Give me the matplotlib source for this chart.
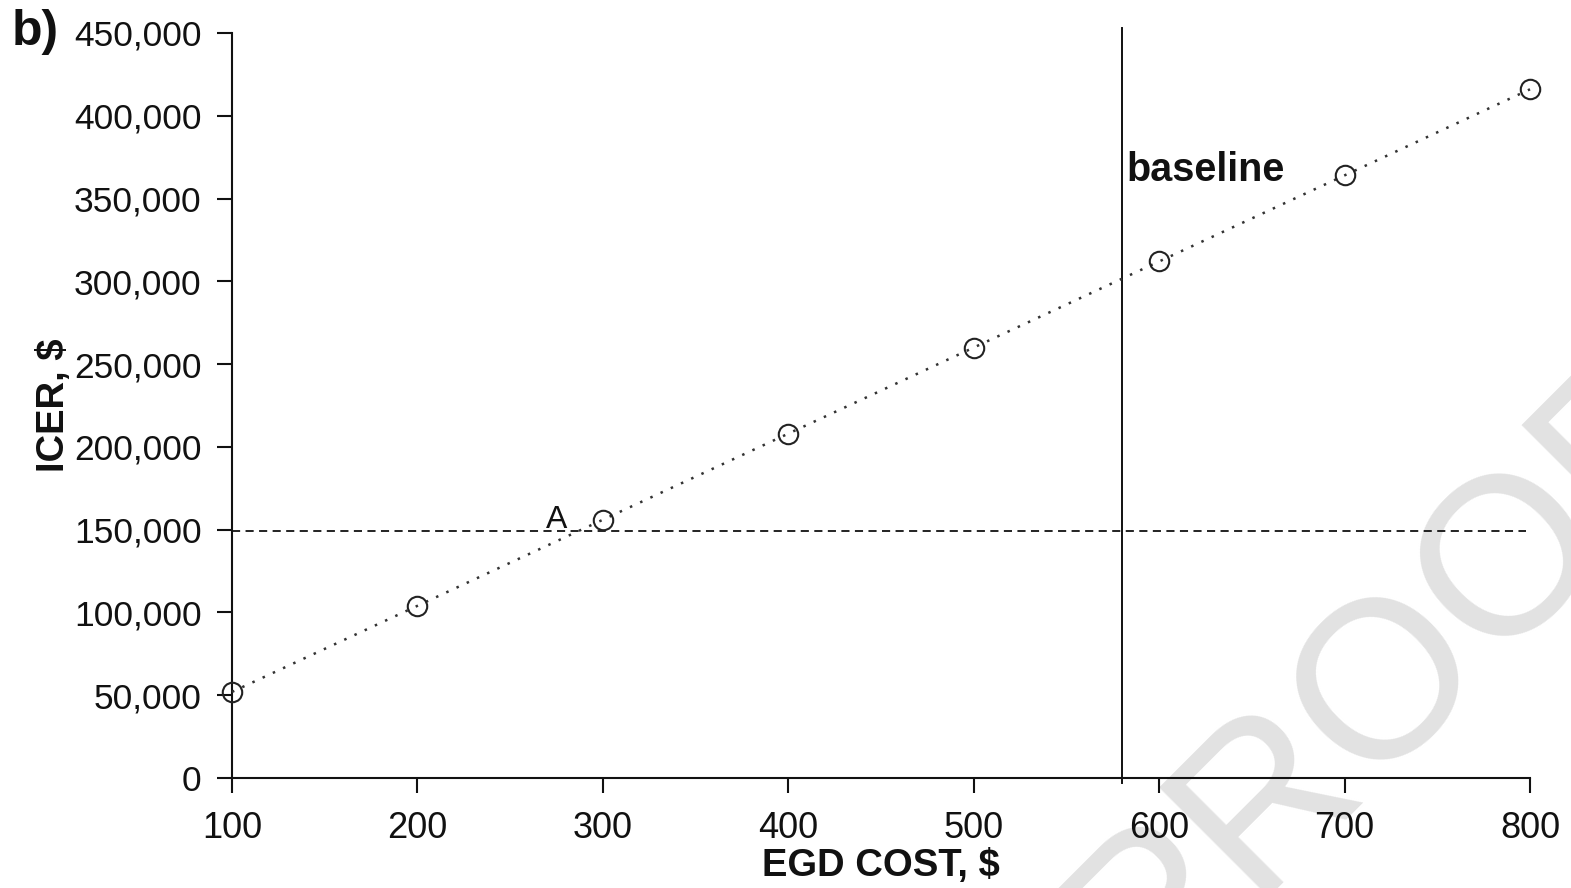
import matplotlib
matplotlib.use("Agg")
import matplotlib.pyplot as plt
from matplotlib.ticker import FuncFormatter

plt.rcParams['font.family'] = ['Liberation Sans', 'DejaVu Sans']

# Data
egd_cost = [100, 200, 300, 400, 500, 600, 700, 800]
icer = [52000, 104000, 156000, 208000, 260000, 312000, 364000, 416000]
threshold = 149000
baseline_cost = 580
x_ticks = [100, 200, 300, 400, 500, 600, 700, 800]
y_ticks = [0, 50000, 100000, 150000, 200000, 250000, 300000, 350000, 400000, 450000]

fig = plt.figure(figsize=(15.71, 8.88), dpi=100)
ax = fig.add_axes([232/1571, 1-778/888, (1530-232)/1571, (778-33)/888])
ax.set_facecolor('none')

# Watermark
fig.text(1428/1571, 1-720/888, "PROOF", fontsize=162, color='#e2e2e2',
         rotation=45, rotation_mode='anchor', ha='center', va='baseline', zorder=-1)

ax.set_xlim(100, 800)
ax.set_ylim(0, 450000)

ax.plot(egd_cost, icer, linestyle=(0, (1, 3.5)), color='#333333', lw=1.8,
        marker='o', markersize=14, markerfacecolor='none',
        markeredgecolor='#222222', markeredgewidth=1.5, clip_on=False, zorder=3)

ax.hlines(threshold, 100, 798, colors='#111111', linestyles=(0, (4.5, 3)), lw=1.3)
ax.plot([baseline_cost, baseline_cost], [-3000, 453000], color='#111111', lw=1.4,
        clip_on=False)

ax.text(baseline_cost + 2.5, 367000, "baseline", fontsize=28.5, fontweight='bold',
        ha='left', va='center', color='#111111')
ax.text(275, 156000, "A", fontsize=23, ha='center', va='center', color='#111111')
fig.text(12/1571, 1-32/888, "b)", fontsize=36, fontweight='bold', ha='left',
         va='center', color='#111111')

for s in ['top', 'right']:
    ax.spines[s].set_visible(False)
for s in ['left', 'bottom']:
    ax.spines[s].set_linewidth(1.5)
    ax.spines[s].set_color('#111111')

ax.set_xticks(x_ticks)
ax.set_yticks(y_ticks)
ax.yaxis.set_major_formatter(FuncFormatter(lambda v, p: f"{int(v):,}"))
ax.tick_params(axis='both', direction='out', length=11, width=1.5, colors='#111111')
ax.tick_params(axis='y', labelsize=25.5, pad=11)
ax.tick_params(axis='x', labelsize=26, pad=12.5)

ax.set_xlabel("EGD COST, $", fontsize=27.5, fontweight='bold', labelpad=2, color='#111111')
ax.set_ylabel("ICER, $", fontsize=27.5, fontweight='bold', labelpad=1, color='#111111')

fig.savefig("out.png", dpi=100)
